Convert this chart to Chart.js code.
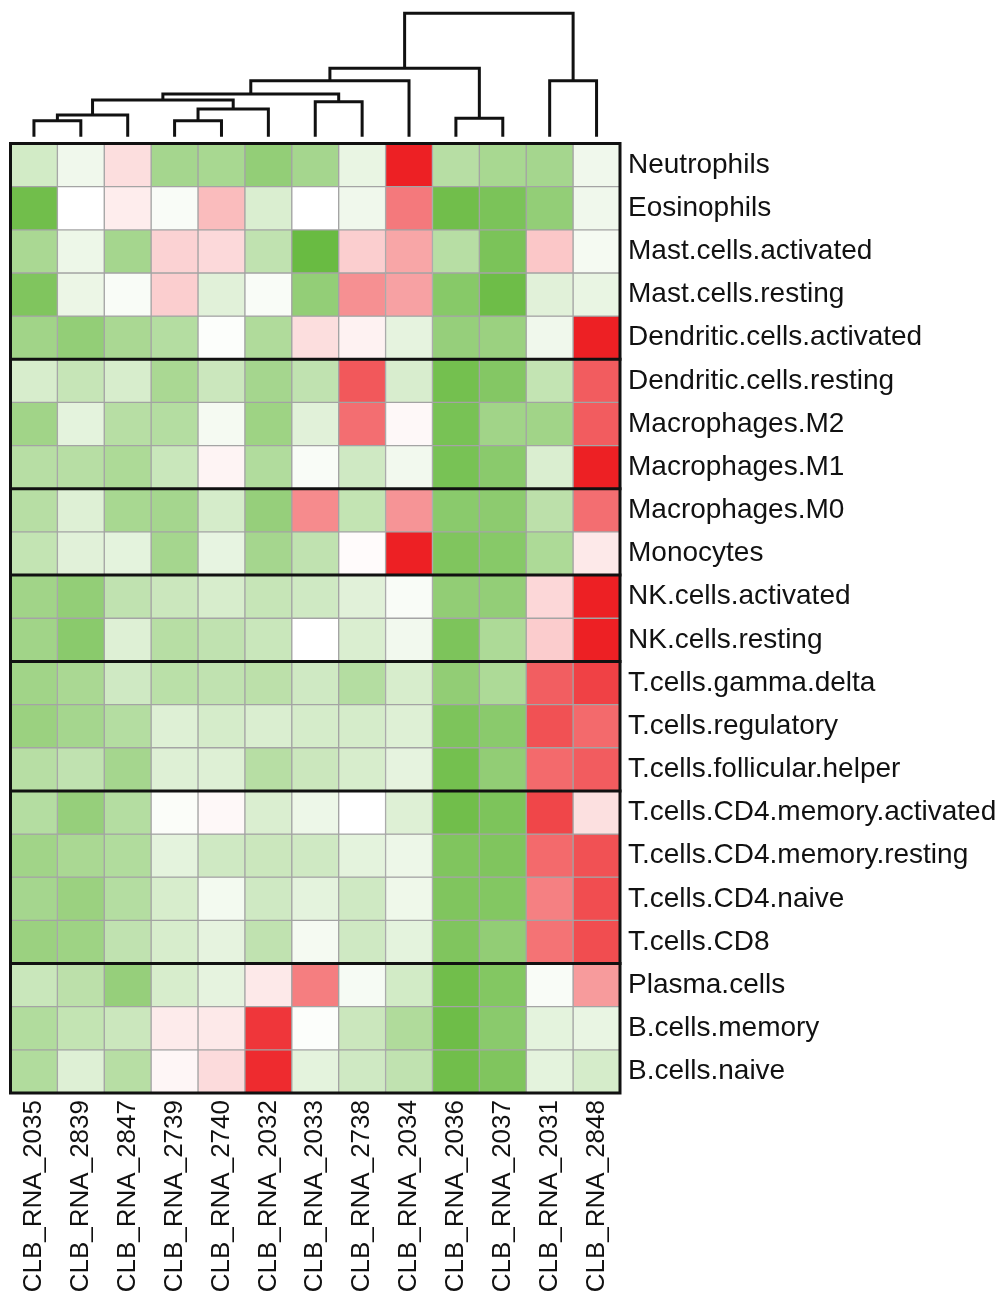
<!DOCTYPE html>
<html>
<head>
<meta charset="utf-8">
<script src="https://cdn.jsdelivr.net/npm/chart.js@4/dist/chart.umd.min.js"></script>
<style>
  body { margin: 0; background: #fff; }
  #wrap { position: relative; width: 1003px; height: 1301px; }
  #heatBox { position: absolute; left: 0; top: 0; width: 1003px; height: 1301px; }
  #dendBox { position: absolute; left: 0; top: 0; width: 1003px; height: 145px; }
</style>
</head>
<body>
<div id="wrap">
  <div id="heatBox"><canvas id="heatChart"></canvas></div>
  <div id="dendBox"><canvas id="dendChart"></canvas></div>
</div>
<script>
// samples, in dendrogram order
const colLabels = ['CLB_RNA_2035', 'CLB_RNA_2839', 'CLB_RNA_2847', 'CLB_RNA_2739', 'CLB_RNA_2740', 'CLB_RNA_2032', 'CLB_RNA_2033', 'CLB_RNA_2738', 'CLB_RNA_2034', 'CLB_RNA_2036', 'CLB_RNA_2037', 'CLB_RNA_2031', 'CLB_RNA_2848'];
const rowLabels = ['Neutrophils', 'Eosinophils', 'Mast.cells.activated', 'Mast.cells.resting', 'Dendritic.cells.activated', 'Dendritic.cells.resting', 'Macrophages.M2', 'Macrophages.M1', 'Macrophages.M0', 'Monocytes', 'NK.cells.activated', 'NK.cells.resting', 'T.cells.gamma.delta', 'T.cells.regulatory', 'T.cells.follicular.helper', 'T.cells.CD4.memory.activated', 'T.cells.CD4.memory.resting', 'T.cells.CD4.naive', 'T.cells.CD8', 'Plasma.cells', 'B.cells.memory', 'B.cells.naive'];

// scaled values: -1 = full green, 0 = white, +1 = full red
const neutrophils    = [-0.30, -0.10, 0.15, -0.60, -0.58, -0.72, -0.60, -0.15, 1.00, -0.48, -0.58, -0.60, -0.10];
const eosinophils    = [-0.95, 0.00, 0.08, -0.04, 0.30, -0.25, 0.00, -0.10, 0.60, -0.95, -0.88, -0.72, -0.10];
const mastActivated  = [-0.57, -0.12, -0.60, 0.20, 0.17, -0.42, -1.00, 0.22, 0.40, -0.48, -0.88, 0.25, -0.07];
const mastResting    = [-0.85, -0.13, -0.04, 0.22, -0.20, -0.04, -0.72, 0.50, 0.42, -0.80, -0.97, -0.20, -0.15];
const dcActivated    = [-0.63, -0.72, -0.57, -0.50, -0.02, -0.53, 0.15, 0.06, -0.17, -0.70, -0.67, -0.10, 1.00];
const dcResting      = [-0.27, -0.38, -0.27, -0.57, -0.35, -0.60, -0.42, 0.75, -0.26, -0.93, -0.82, -0.40, 0.73];
const macroM2        = [-0.63, -0.18, -0.48, -0.50, -0.07, -0.65, -0.20, 0.65, 0.03, -0.90, -0.63, -0.63, 0.73];
const macroM1        = [-0.48, -0.48, -0.55, -0.36, 0.05, -0.52, -0.04, -0.32, -0.09, -0.90, -0.78, -0.25, 1.00];
const macroM0        = [-0.48, -0.22, -0.58, -0.60, -0.28, -0.70, 0.52, -0.40, 0.48, -0.78, -0.76, -0.45, 0.65];
const monocytes      = [-0.40, -0.20, -0.18, -0.60, -0.16, -0.60, -0.42, 0.02, 1.00, -0.85, -0.80, -0.55, 0.10];
const nkActivated    = [-0.63, -0.72, -0.42, -0.35, -0.27, -0.38, -0.32, -0.20, -0.04, -0.73, -0.72, 0.18, 1.00];
const nkResting      = [-0.63, -0.78, -0.22, -0.48, -0.42, -0.36, 0.00, -0.25, -0.09, -0.87, -0.55, 0.23, 1.00];
const tGammaDelta    = [-0.63, -0.57, -0.32, -0.46, -0.42, -0.45, -0.32, -0.50, -0.27, -0.73, -0.55, 0.72, 0.85];
const tRegulatory    = [-0.67, -0.60, -0.50, -0.22, -0.28, -0.25, -0.28, -0.28, -0.22, -0.87, -0.78, 0.78, 0.67];
const tFollicular    = [-0.48, -0.42, -0.60, -0.22, -0.22, -0.48, -0.35, -0.27, -0.17, -0.93, -0.73, 0.67, 0.73];
const tCd4MemAct     = [-0.50, -0.70, -0.50, -0.03, 0.03, -0.25, -0.12, 0.00, -0.22, -0.95, -0.87, 0.83, 0.14];
const tCd4MemRest    = [-0.63, -0.57, -0.52, -0.18, -0.32, -0.35, -0.32, -0.18, -0.12, -0.85, -0.85, 0.67, 0.78];
const tCd4Naive      = [-0.60, -0.67, -0.50, -0.27, -0.08, -0.32, -0.18, -0.32, -0.11, -0.85, -0.83, 0.57, 0.80];
const tCd8           = [-0.67, -0.65, -0.42, -0.27, -0.17, -0.42, -0.07, -0.32, -0.18, -0.85, -0.73, 0.63, 0.80];
const plasma         = [-0.36, -0.45, -0.70, -0.27, -0.17, 0.10, 0.58, -0.06, -0.30, -0.95, -0.83, -0.04, 0.45];
const bMemory        = [-0.52, -0.40, -0.35, 0.09, 0.10, 0.90, -0.02, -0.35, -0.53, -0.97, -0.78, -0.18, -0.15];
const bNaive         = [-0.52, -0.22, -0.48, 0.04, 0.16, 0.95, -0.18, -0.32, -0.42, -0.95, -0.85, -0.18, -0.28];

const cellRows = [neutrophils, eosinophils, mastActivated, mastResting, dcActivated, dcResting, macroM2, macroM1, macroM0, monocytes, nkActivated, nkResting, tGammaDelta, tRegulatory, tFollicular, tCd4MemAct, tCd4MemRest, tCd4Naive, tCd8, plasma, bMemory, bNaive];

// thick black lines go under these rows
const groupBreaks = [5, 8, 10, 12, 15, 19];

// column dendrogram, hclust style: negative = leaf (position+1), positive = earlier merge
const mergeLeft   = [-1, 1, -4, 3, -7, 2, 6, 7, -10, 8, -12, 10];
const mergeRight  = [-2, -3, -5, -6, -8, 4, 5, -9, -11, 9, -13, 11];
const mergeHeight = [0.130, 0.176, 0.130, 0.224, 0.284, 0.297, 0.346, 0.454, 0.149, 0.554, 0.454, 1.0];

const fontFam = "'Liberation Sans', Arial, Helvetica, sans-serif";
const xMin = -0.5, xMax = colLabels.length - 0.5;

function cellColor(v) {
  if (v < 0) {
    const t = -v;
    return 'rgb(' + Math.round(255 - 150 * t) + ',' + Math.round(255 - 68 * t) + ',' + Math.round(255 - 189 * t) + ')';
  }
  return 'rgb(' + Math.round(255 - 18 * v) + ',' + Math.round(255 - 223 * v) + ',' + Math.round(255 - 219 * v) + ')';
}

// one floating-bar dataset per row
const heatSets = cellRows.map((vals, r) => ({
  type: 'bar',
  label: rowLabels[r],
  data: vals.map(() => [r, r + 1]),
  backgroundColor: vals.map(cellColor),
  borderColor: '#a4a4a4',
  borderWidth: 1,
  borderSkipped: false,
  grouped: false,
  barPercentage: 1,
  categoryPercentage: 1,
  order: 2
}));

function blackLine(pts) {
  return {
    type: 'line',
    xAxisID: 'xl',
    data: pts,
    borderColor: '#111',
    borderWidth: 3,
    pointRadius: 0,
    fill: false,
    tension: 0,
    clip: false,
    borderCapStyle: 'square',
    order: 0
  };
}
const frameSet = blackLine([{x: xMin, y: 0}, {x: xMax, y: 0}, {x: xMax, y: rowLabels.length}, {x: xMin, y: rowLabels.length}, {x: xMin, y: 0}]);
const sepSets = groupBreaks.map(b => blackLine([{x: xMin, y: b}, {x: xMax, y: b}]));

new Chart('heatChart', {
  type: 'bar',
  data: { labels: colLabels, datasets: [...heatSets, frameSet, ...sepSets] },
  options: {
    responsive: true,
    maintainAspectRatio: false,
    animation: false,
    layout: { padding: { left: 10.5, top: 143.5, right: 0, bottom: 0 } },
    plugins: { legend: { display: false }, tooltip: { enabled: false } },
    scales: {
      x: {
        type: 'category',
        offset: true,
        grid: { display: false, drawTicks: false },
        border: { display: false },
        ticks: { autoSkip: false, maxRotation: 90, minRotation: 90, padding: 7, color: '#111', font: { family: fontFam, size: 26 } },
        afterFit: s => { s.height = 208; }
      },
      xl: { type: 'linear', offset: false, min: xMin, max: xMax, display: false },
      y: {
        type: 'linear',
        position: 'right',
        min: 0,
        max: rowLabels.length,
        reverse: true,
        grid: { display: false, drawTicks: false },
        border: { display: false },
        afterBuildTicks: s => { s.ticks = rowLabels.map((_, i) => ({ value: i + 0.5 })); },
        ticks: { autoSkip: false, padding: 8, color: '#111', font: { family: fontFam, size: 28 }, callback: (v, i) => rowLabels[i] },
        afterFit: s => { s.width = 383; }
      }
    }
  }
});

// dendrogram: one U-shaped line per merge
const nodeX = [], nodeH = [];
function nodePos(id) {
  return id < 0 ? { x: -id - 1, h: 0 } : { x: nodeX[id - 1], h: nodeH[id - 1] };
}
const dendSets = mergeLeft.map((l, i) => {
  const a = nodePos(l), b = nodePos(mergeRight[i]), h = mergeHeight[i];
  nodeX[i] = (a.x + b.x) / 2;
  nodeH[i] = h;
  return {
    data: [{x: a.x, y: a.h}, {x: a.x, y: h}, {x: b.x, y: h}, {x: b.x, y: b.h}],
    borderColor: '#111',
    borderWidth: 3,
    pointRadius: 0,
    fill: false,
    tension: 0,
    clip: false,
    borderJoinStyle: 'miter'
  };
});

new Chart('dendChart', {
  type: 'line',
  data: { datasets: dendSets },
  options: {
    responsive: true,
    maintainAspectRatio: false,
    animation: false,
    layout: { padding: { left: 10.5, right: 383, top: 13.3, bottom: 8.3 } },
    plugins: { legend: { display: false }, tooltip: { enabled: false } },
    scales: {
      x: { type: 'linear', min: xMin, max: xMax, display: false },
      y: { min: 0, max: 1, display: false }
    }
  }
});
</script>
</body>
</html>
